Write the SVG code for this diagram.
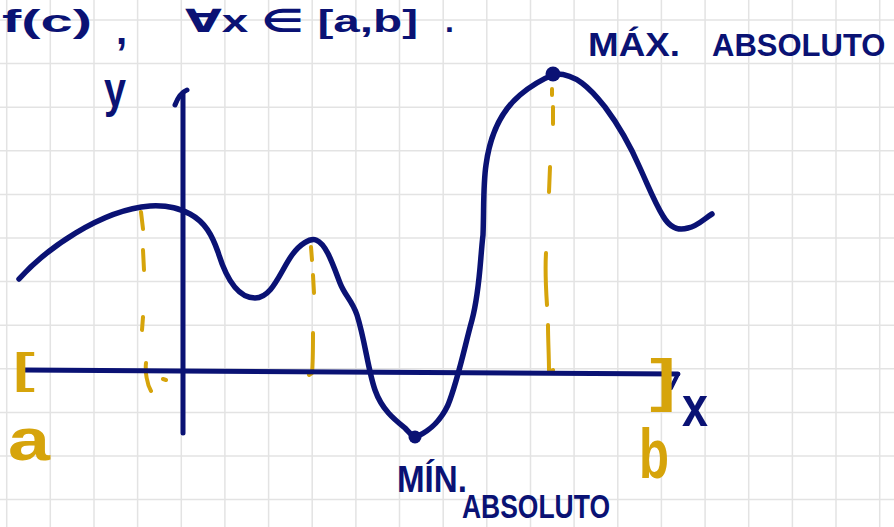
<svg xmlns="http://www.w3.org/2000/svg" width="894" height="527" viewBox="0 0 894 527">
<style>
.grid{stroke:#e3e3e3;stroke-width:1.5;fill:none}
.ink{stroke:#0a1274;fill:none;stroke-linecap:round;stroke-linejoin:round}
.gold{stroke:#d6a40b;fill:none;stroke-width:4;stroke-linecap:round;stroke-linejoin:round}
.tn{fill:#0a1274;font-family:"Liberation Sans","DejaVu Sans",sans-serif;font-weight:bold}
.tg{fill:#d6a40b;font-family:"Liberation Sans","DejaVu Sans",sans-serif;font-weight:bold}
</style>
<rect width="894" height="527" fill="#ffffff"/>
<g id="grid">
<path class="grid" d="M6.7,0V527M50.3,0V527M94,0V527M137.6,0V527M181.3,0V527M224.9,0V527M268.6,0V527M312.2,0V527M355.9,0V527M399.5,0V527M443.2,0V527M486.8,0V527M530.5,0V527M574.1,0V527M617.8,0V527M661.4,0V527M705.1,0V527M748.7,0V527M792.4,0V527M836,0V527M879.7,0V527M0,20H894M0,63.6H894M0,107.2H894M0,150.8H894M0,194.4H894M0,238H894M0,281.6H894M0,325.2H894M0,368.8H894M0,412.4H894M0,456H894M0,499.6H894"/>
</g>
<g id="guides">
<path class="gold" d="M141,212L143,229M143,250L144,270M143,317L142,330M146,363C145,372 147,384 151,391M163,379L166,380"/>
<path class="gold" d="M311,247L312,260M313,275L314,293M313,333C313,350 313,362 312,373L309,375"/>
<path class="gold" d="M552,89L552,95M553,107L553,124M550,167L549,192M546,253C545,270 546,290 547,305M548,325C548,340 549,356 549,372L553,370"/>
</g>
<g id="axes">
<path class="ink" stroke-width="5" d="M25,370L678,374"/>
<path class="ink" stroke-width="4" d="M678,374L671,388"/>
<path class="ink" stroke-width="5" d="M183,93L183,433"/>
<path class="ink" stroke-width="5" d="M175,105C178,97 182,92 187,90"/>
</g>
<g id="curve">
<path class="ink" stroke-width="5.5" d="M19,279C45,250 100,210 150,206C170,205 180,209 190,214C205,222 212,235 218,252C226,278 238,298 255,298C272,298 280,272 292,255C300,244 310,238 316,240C326,244 332,262 340,283C345,296 352,300 357,315C365,340 368,370 375,390C382,410 395,420 405,428C410,433 413,438 418,436C430,430 440,422 448,405C458,380 465,345 472,320C480,290 480,260 483,235C484,210 483,185 486,165C490,135 500,112 520,95C533,84 545,78 555,74C575,73 590,88 605,107C620,127 630,145 640,168C650,190 655,203 663,216C670,228 678,231 688,228C698,226 705,218 712,214"/>
<circle cx="415" cy="437" r="6.5" fill="#0a1274"/>
<circle cx="553" cy="74" r="7.5" fill="#0a1274"/>
</g>
<g id="labels">
<text class="tn" x="2" y="32" font-size="32" textLength="90" lengthAdjust="spacingAndGlyphs">f(c)</text>
<text class="tn" x="116" y="44" font-size="40">,</text>
<text class="tn" x="185" y="32" font-size="32" textLength="233" lengthAdjust="spacingAndGlyphs">∀x ∈ [a,b]</text>
<text class="tn" x="445" y="32" font-size="32">.</text>
<text class="tn" x="588" y="56" font-size="34" textLength="92" lengthAdjust="spacingAndGlyphs">MÁX.</text>
<text class="tn" x="712" y="56" font-size="31">ABSOLUTO</text>
<text class="tn" x="397" y="492" font-size="36" textLength="70" lengthAdjust="spacingAndGlyphs">MÍN.</text>
<text class="tn" x="462" y="518" font-size="34" textLength="148" lengthAdjust="spacingAndGlyphs">ABSOLUTO</text>
<text class="tn" x="104" y="107" font-size="50" textLength="22" lengthAdjust="spacingAndGlyphs">y</text>
<text class="tn" x="682" y="426" font-size="58" textLength="26" lengthAdjust="spacingAndGlyphs">x</text>
<text class="tg" x="13" y="383" font-size="43" textLength="22" lengthAdjust="spacingAndGlyphs">[</text>
<text class="tg" x="8" y="460" font-size="60" textLength="42" lengthAdjust="spacingAndGlyphs">a</text>
<text class="tg" x="650" y="400" font-size="58" textLength="26" lengthAdjust="spacingAndGlyphs">]</text>
<text class="tg" x="639" y="478" font-size="70" textLength="30" lengthAdjust="spacingAndGlyphs">b</text>
</g>
</svg>
